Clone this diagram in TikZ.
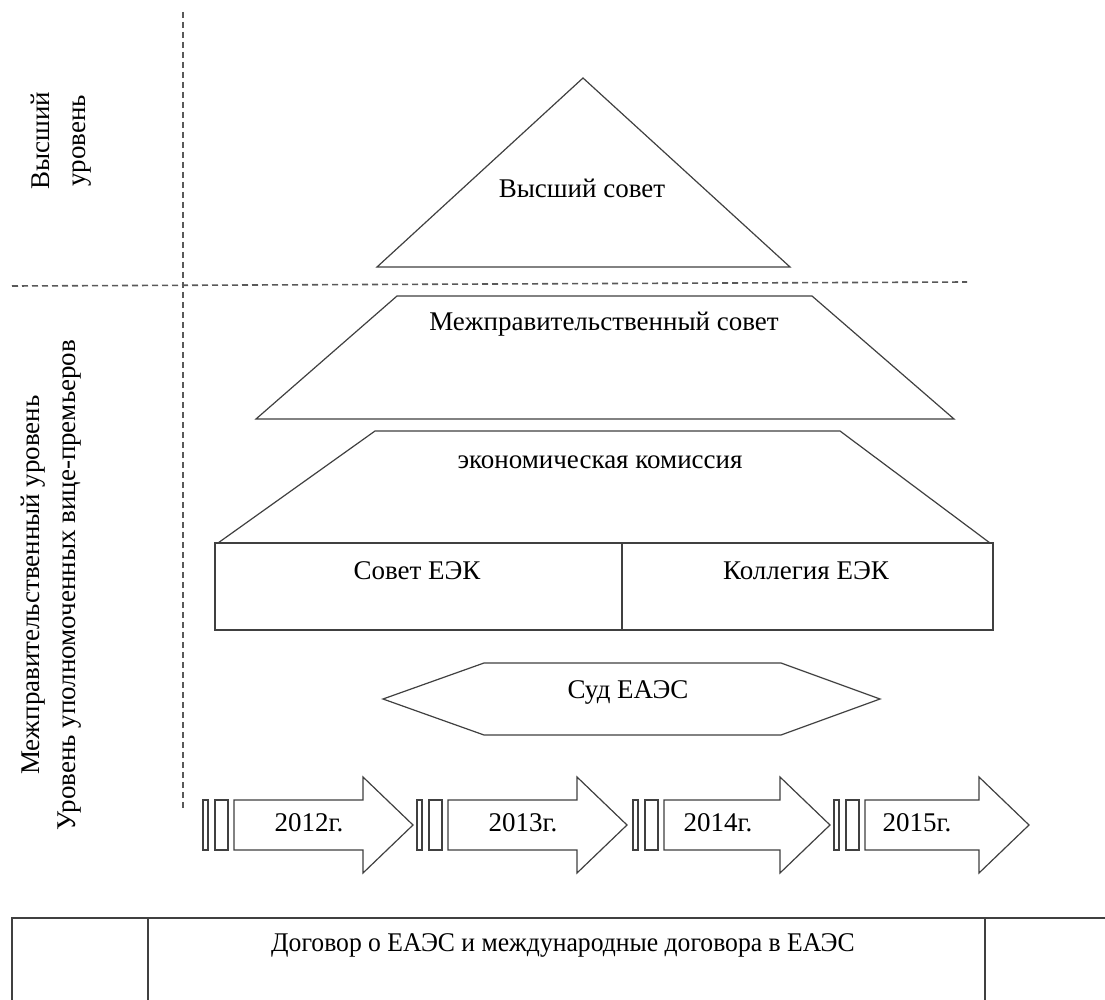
\documentclass[tikz,border=0pt]{standalone}
\usepackage{fontspec}
\setmainfont{Liberation Serif}
\usetikzlibrary{positioning}
\tikzset{lvl/.style={draw=black!75, line width=1.2pt}}
\tikzset{sepl/.style={draw=black!65, line width=1.6pt, dash pattern=on 6pt off 4pt}}
\tikzset{lbl/.style={inner sep=0pt, font=\fontsize{27}{32}\selectfont}}
\tikzset{side/.style={inner sep=0pt, rotate=90, align=center, font=\fontsize{27}{36}\selectfont}}

\begin{document}
\begin{tikzpicture}[x=1pt, y=-1pt]
    \clip (0,0) rectangle (1105,1000);
    \fill[white] (0,0) rectangle (1105,1000);

    % level dividers
    \draw[sepl] (183,12) -- (183,808);
    \draw[sepl] (12,286) -- (967,282);

    \node[side] (lvltop) at (61,141) {Высший\\уровень};
    \node[side] (lvllow) at (51,585) {Межправительственный уровень\\Уровень уполномоченных вице-премьеров};

    % pyramid
    \draw[lvl] (583,78) -- (790,267) -- (377,267) -- cycle;
    \node[lbl] (vsov) at (582,188) {Высший совет};
    \draw[lvl] (397,296) -- (812,296) -- (954,419) -- (256,419) -- cycle;
    \node[lbl] (msov) at (604,324) {Межправительственный совет};
    \draw[lvl] (375,431) -- (840,431) -- (990,543) -- (218,543) -- cycle;
    \node[lbl] (ekom) at (600,462) {экономическая комиссия};
    \draw[lvl] (215,543) rectangle (993,630);
    \draw[lvl] (622,543) -- (622,630);
    \node[lbl] (sovet) at (417,571) {Совет ЕЭК};
    \node[lbl] (koll) at (806,571) {Коллегия ЕЭК};
    \draw[lvl] (383,699) -- (484,663) -- (781,663) -- (880,699) -- (781,735) -- (484,735) -- cycle;
    \node[lbl] (sud) at (628,692) {Суд ЕАЭС};

    % years
    \foreach \xs/\xt/\xl/\yr in {234/413/309/2012, 448/627/523/2013, 664/830/718/2014, 865/1029/917/2015} {
        \draw[lvl] (\xs-31,800) rectangle (\xs-26,850);
        \draw[lvl] (\xs-19,800) rectangle (\xs-6,850);
        \draw[lvl] (\xs,800) -- (\xt-50,800) -- (\xt-50,777) -- (\xt,825)
            -- (\xt-50,873) -- (\xt-50,850) -- (\xs,850) -- cycle;
        \node[lbl] (y\yr) at (\xl,823) {\yr г.};
    }

    % treaty
    \draw[lvl] (12,1005) -- (12,918) -- (1110,918);
    \draw[lvl] (148,918) -- (148,1005);
    \draw[lvl] (985,918) -- (985,1005);
    \node[lbl, xscale=0.95] (dogov) at (563,945) {Договор о ЕАЭС и международные договора в ЕАЭС};
\end{tikzpicture}
\end{document}
